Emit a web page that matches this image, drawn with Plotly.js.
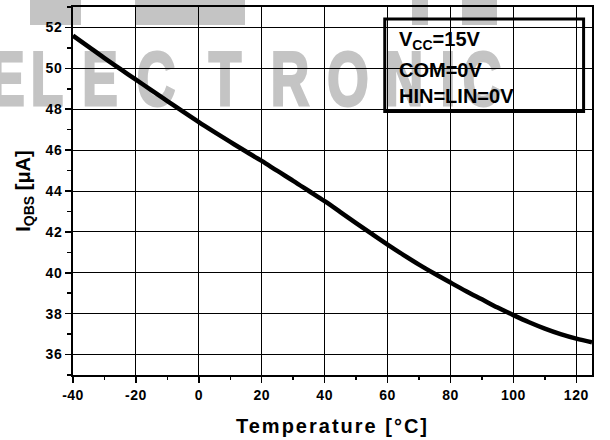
<!DOCTYPE html>
<html><head><meta charset="utf-8">
<script src="https://cdn.plot.ly/plotly-3.0.1.min.js"></script>
<style>
html,body{margin:0;padding:0;background:#fff;}
#wrap{position:relative;width:610px;height:440px;overflow:hidden;background:#fff;}
#wm{position:absolute;left:0;top:0;width:610px;height:440px;z-index:0;font-family:"Liberation Sans",Arial,sans-serif;font-weight:bold;color:#c4c4c4;}
#wm span{position:absolute;top:41px;font-size:76px;line-height:76px;width:60px;text-align:center;transform:scaleX(0.7);-webkit-text-stroke:3px #c4c4c4;}
#wm div{position:absolute;top:0;height:25px;background:#c4c4c4;}
#chart{position:absolute;left:0;top:0;width:610px;height:440px;z-index:1;}
.xtitle{letter-spacing:2px;}
.xtick text,.ytick text{letter-spacing:0.5px;}
</style></head>
<body><div id="wrap"><div id="wm">
<div style="left:30px;width:51px"></div><div style="left:135px;width:110px"></div><div style="left:412px;width:16px"></div><div style="left:462px;width:35px"></div>
<span style="left:-23px">E</span><span style="left:17px">L</span><span style="left:70px">E</span><span style="left:126px">C</span><span style="left:195px">T</span><span style="left:260px">R</span><span style="left:318px">O</span><span style="left:374px">N</span><span style="left:418px">I</span><span style="left:452px">C</span>
</div><div id="chart"></div></div>
<script>
// Quiescent V_BS supply current vs temperature
const temperature = [-40,-35,-30,-25,-20,-15,-10,-5,0,5,10,15,20,25,30,35,40,45,50,55,60,65,70,75,80,85,90,95,100,105,110,115,120,125];
const iqbs = [51.6,51.05,50.5,49.97,49.45,48.92,48.4,47.88,47.37,46.88,46.4,45.93,45.47,44.98,44.5,44.0,43.5,42.97,42.43,41.9,41.38,40.88,40.4,39.95,39.52,39.1,38.7,38.3,37.93,37.58,37.27,37.0,36.78,36.6];
const xTickVals = [-40,-20,0,20,40,60,80,100,120];
const yTickVals = [36,38,40,42,44,46,48,50,52];
const conditions = ["V<sub>CC</sub>=15V","COM=0V","HIN=LIN=0V"];

const FONT = "Liberation Sans, Arial, sans-serif";

const trace = {
  x: temperature, y: iqbs, type: "scatter", mode: "lines",
  line: {color: "#000", width: 4.5, shape: "spline", smoothing: 1},
  hoverinfo: "skip", showlegend: false
};

const condY = [0.908, 0.83, 0.758];
const annotations = conditions.map((t, i) => ({
  xref: "paper", yref: "paper", x: 0.6238, y: condY[i],
  xanchor: "left", yanchor: "middle", showarrow: false,
  text: "<b>" + t + "</b>",
  font: {family: FONT, size: 20, color: "#000"}
}));

const layout = {
  width: 610, height: 440,
  margin: {l: 73.3, r: 18.3, t: 7.3, b: 65.3},
  paper_bgcolor: "rgba(0,0,0,0)", plot_bgcolor: "rgba(0,0,0,0)",
  font: {family: FONT, color: "#000"},
  xaxis: {
    range: [-40, 125], tickmode: "array", tickvals: xTickVals,
    ticktext: xTickVals.map(v => "<b>" + v + "</b>"),
    tickfont: {family: FONT, size: 14, color: "#000"},
    ticks: "outside", ticklen: 6, tickwidth: 1.5, tickcolor: "#000",
    minor: {dtick: 10, tick0: -40, ticks: "outside", ticklen: 3, tickwidth: 1.5, tickcolor: "#000", showgrid: false},
    showgrid: true, gridcolor: "#000", gridwidth: 1,
    showline: true, linecolor: "#000", linewidth: 2, mirror: true,
    zeroline: false,
    title: {text: "<b>Temperature [°C]</b>", font: {family: FONT, size: 20, color: "#000"}, standoff: 17}
  },
  yaxis: {
    range: [35, 53], tickmode: "array", tickvals: yTickVals,
    ticktext: yTickVals.map(v => "<b>" + v + "</b>"),
    tickfont: {family: FONT, size: 14, color: "#000"},
    ticks: "outside", ticklen: 6, tickwidth: 1.5, tickcolor: "#000",
    minor: {dtick: 1, tick0: 35, ticks: "outside", ticklen: 4, tickwidth: 1.5, tickcolor: "#000", showgrid: false},
    showgrid: true, gridcolor: "#000", gridwidth: 1,
    showline: true, linecolor: "#000", linewidth: 2, mirror: true,
    zeroline: false,
    title: {text: "<b>I<sub>QBS</sub> [μA]</b>", font: {family: FONT, size: 20, color: "#000"}, standoff: 10}
  },
  shapes: [{
    type: "rect", xref: "paper", yref: "paper",
    x0: 0.6007, x1: 0.9838, y0: 0.7158, y1: 0.9673,
    line: {color: "#000", width: 3}, fillcolor: "rgba(0,0,0,0)"
  }],
  annotations: annotations
};

Plotly.newPlot("chart", [trace], layout, {displayModeBar: false, staticPlot: true});
</script>
</body></html>
